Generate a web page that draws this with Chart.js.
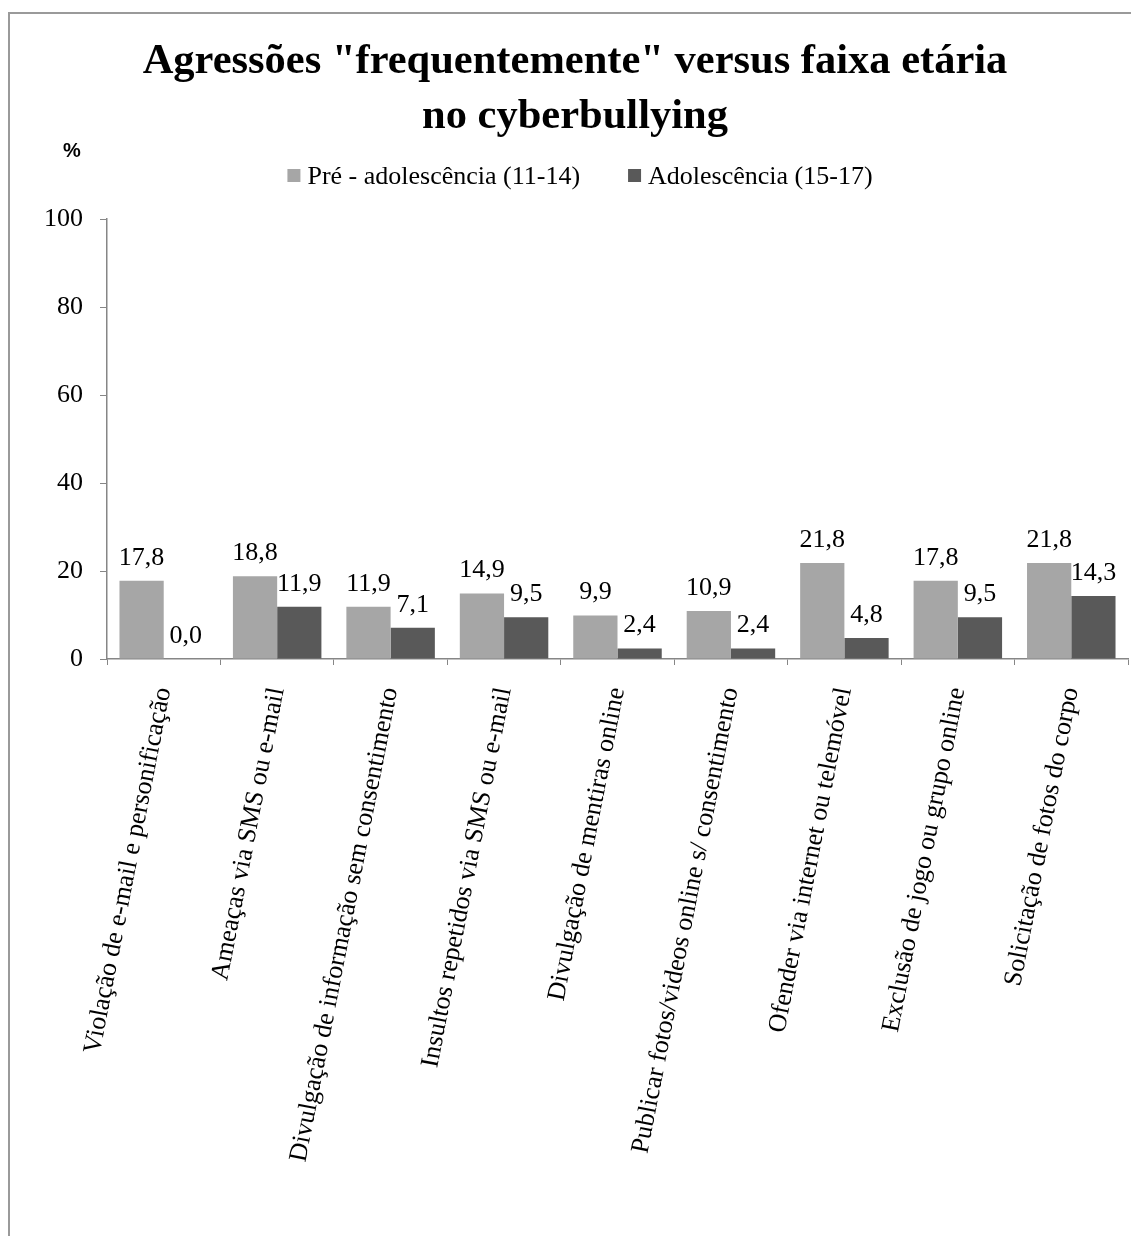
<!DOCTYPE html>
<html>
<head>
<meta charset="utf-8">
<script src="https://cdn.jsdelivr.net/npm/chart.js"></script>
<style>
    html, body { margin: 0; padding: 0; background: #fff; }
    #wrap { position: relative; width: 1131px; height: 1236px; overflow: hidden; }
    #frame {
        position: absolute; left: 8px; top: 12px; width: 1200px; height: 1300px;
        border-left: 2px solid #9a9a9a; border-top: 2px solid #9a9a9a;
    }
    #chart { position: absolute; left: 0; top: 0; }
</style>
</head>
<body>
<div id="wrap">
    <div id="frame"></div>
    <canvas id="chart" width="1131" height="1236"></canvas>
</div>
<script>
const titleLines = ['Agressões "frequentemente" versus faixa etária', 'no cyberbullying'];

const categories = [
    "Violação de e-mail e personificação",
    "Ameaças via SMS ou e-mail",
    "Divulgação de informação sem consentimento",
    "Insultos repetidos via SMS ou e-mail",
    "Divulgação de mentiras online",
    "Publicar fotos/videos online s/ consentimento",
    "Ofender via internet ou telemóvel",
    "Exclusão de jogo ou grupo online",
    "Solicitação de fotos do corpo"
];

const seriesNames = ['Pré - adolescência (11-14)', 'Adolescência (15-17)'];
const preAdolescence = [17.8, 18.8, 11.9, 14.9, 9.9, 10.9, 21.8, 17.8, 21.8];
const adolescence = [0.0, 11.9, 7.1, 9.5, 2.4, 2.4, 4.8, 9.5, 14.3];

const yTicks = [0, 20, 40, 60, 80, 100];

const serif = '"Liberation Serif", "Times New Roman", serif';
const axisGray = '#868686';

// title, "%" marker and legend drawn straight onto the canvas
const headerPlugin = {
    id: 'header',
    afterDraw(chart) {
        const ctx = chart.ctx;
        ctx.save();
        ctx.fillStyle = '#000';
        ctx.textAlign = 'center';
        ctx.textBaseline = 'alphabetic';
        ctx.font = 'bold 42.5px ' + serif;
        titleLines.forEach((line, i) => ctx.fillText(line, 575, 73 + i * 55));
        ctx.font = 'bold 20px "Liberation Sans", Arial, sans-serif';
        ctx.fillText('%', 72, 157);

        // legend: square swatch, small gap, name; items centred as a row
        ctx.font = '26px ' + serif;
        ctx.textAlign = 'left';
        const box = 13, gap = 7, between = 48;
        const items = chart.data.datasets.map(ds => ({
            text: ds.label, color: ds.backgroundColor, w: box + gap + ctx.measureText(ds.label).width
        }));
        const total = items.reduce((s, it) => s + it.w, 0) + between * (items.length - 1);
        let x = 580 - total / 2;
        items.forEach(it => {
            ctx.fillStyle = it.color;
            ctx.fillRect(x, 169, box, box);
            ctx.fillStyle = '#000';
            ctx.fillText(it.text, x + box + gap, 184);
            x += it.w + between;
        });
        ctx.restore();
    }
};

// value labels above each bar, decimal comma
const valueLabels = {
    id: 'valueLabels',
    afterDatasetsDraw(chart) {
        const ctx = chart.ctx;
        ctx.save();
        ctx.fillStyle = '#000';
        ctx.textAlign = 'center';
        ctx.textBaseline = 'alphabetic';
        ctx.font = '26px ' + serif;
        chart.data.datasets.forEach((ds, di) => {
            chart.getDatasetMeta(di).data.forEach((bar, i) => {
                ctx.fillText(ds.data[i].toFixed(1).replace('.', ','), bar.x, bar.y - 16);
            });
        });
        ctx.restore();
    }
};

new Chart(document.getElementById('chart'), {
    type: 'bar',
    data: {
        labels: categories,
        datasets: [
            { label: seriesNames[0], data: preAdolescence, backgroundColor: '#A6A6A6' },
            { label: seriesNames[1], data: adolescence, backgroundColor: '#595959' }
        ]
    },
    options: {
        responsive: false,
        animation: false,
        layout: { padding: { top: 219, left: 30, right: 3, bottom: 0 } },
        datasets: { bar: { categoryPercentage: 0.78, barPercentage: 1.0 } },
        plugins: {
            title: { display: false },
            tooltip: { enabled: false },
            legend: { display: false }
        },
        scales: {
            x: {
                afterFit: s => { s.height = 577; },
                grid: { drawOnChartArea: false, drawTicks: true, tickLength: 6, color: axisGray, offset: true },
                border: { color: axisGray, width: 1.5 },
                ticks: {
                    autoSkip: false,
                    maxRotation: 79,
                    minRotation: 79,
                    padding: 20,
                    color: '#000',
                    font: { family: serif, size: 26 }
                }
            },
            y: {
                min: 0,
                max: 100,
                afterFit: s => { s.width = 77; },
                afterBuildTicks: s => { s.ticks = yTicks.map(v => ({ value: v })); },
                grid: { drawOnChartArea: false, drawTicks: true, tickLength: 7, color: axisGray },
                border: { color: axisGray, width: 1.5 },
                ticks: {
                    padding: 17,
                    color: '#000',
                    font: { family: serif, size: 26 }
                }
            }
        }
    },
    plugins: [headerPlugin, valueLabels]
});
</script>
</body>
</html>
